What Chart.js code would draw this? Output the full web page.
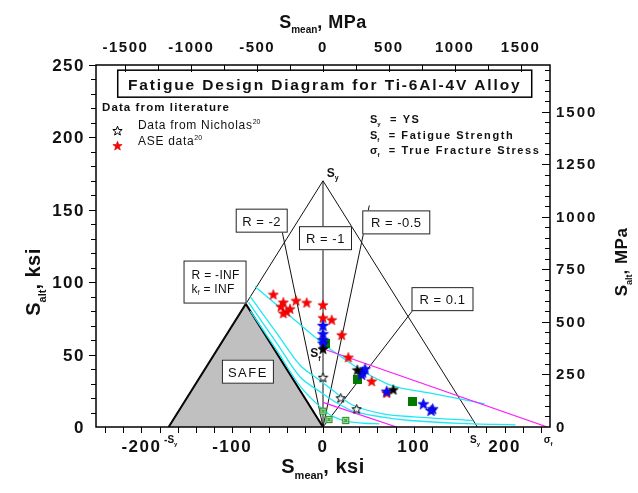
<!DOCTYPE html>
<html><head><meta charset="utf-8">
<script src="https://cdn.jsdelivr.net/npm/chart.js@4/dist/chart.umd.min.js"></script>
<style>html,body{margin:0;padding:0;background:#fff}</style>
</head><body>
<canvas id="c" width="638" height="493" style="display:block"></canvas>
<script>
// ---------- data (ksi) ----------
const KSI_TO_MPA = 6.894757;
const xTicksKsi = [-200, -100, 0, 100, 200];
const yTicksKsi = [0, 50, 100, 150, 200, 250];
const xTicksMPa = [-1500, -1000, -500, 0, 500, 1000, 1500];
const yTicksMPa = [0, 250, 500, 750, 1000, 1250, 1500];

const safeRegion = [[-170, 0], [-85, 85], [0, 0]];
const yieldLine = [[-170, 0], [0, 170], [170, 0]];
const rLineMinus2 = [[0, 0], [-50, 150]];
const rLineMinus1 = [[0, 0], [0, 170]];
const rLineMinus05 = [[0, 0], [51, 153]];
const rLine01 = [[0, 0], [108, 88]];

const goodmanSmooth = [[0, 54], [247, 0]];
const goodmanNotched = [[0, 17], [81, 0]];

const cyan1 = [[-75, 97], [-37, 77], [0, 57.5], [20, 48.5], [44, 38.5], [70, 30], [85, 27], [121, 23], [178, 16]];
const cyan2 = [[-80, 90], [-50, 64], [-25, 42.5], [-3, 32], [11, 25.2], [33, 15], [66, 9.1], [100, 7], [165, 4.5]];
const cyan3 = [[-82, 86], [-50, 57], [-25, 34.4], [0, 23], [11, 18.3], [33, 11], [66, 6.8], [96, 4.5], [150, 2.5], [212, 1.5]];
const cyan4 = [[-80, 80], [-50, 52], [-25, 28], [0, 12], [12, 7], [25, 4], [45, 2.6], [62, 2.2]];

const nicholasOpen = [[0, 34.4], [19.5, 20.2], [37.1, 12.6]];
const nicholasFilled = [[0, 54], [37.8, 39.5], [77.4, 25.9]];
const aseRed = [[-54.7, 91.6], [-43.7, 86.2], [-46.3, 83.3], [-29.7, 87.4], [-18, 86], [-36.3, 81.7], [-40, 79.8], [-43.7, 78.6],
  [0, 84.4], [0, 75.5], [9.6, 74.1], [20.6, 63.7], [27.9, 48.2], [53.6, 31.7], [70.2, 23.6]];
const blueStars = [[0, 70.1], [0, 64.4], [0, 60.3], [0, 57.9], [43.7, 37.9], [46.3, 40.2], [42.6, 36.3], [70.2, 24.7],
  [110.5, 16], [120.8, 12.6], [119, 11.4]];
const greenSquares = [[3.3, 57.5], [38.2, 32.6], [98.8, 17.6]];
const greenCrossed = [[0, 10.9], [6.6, 5.2], [25, 4.5]];

// label boxes in data coordinates (centre)
const boxLabels = [
  {x: -67.5, y: 142.5, w: 52, h: 24, lines: ['R = -2']},
  {x: 2.75, y: 130.4, w: 53, h: 24, lines: ['R = -1']},
  {x: 80.7, y: 141.3, w: 68, h: 24, lines: ['R = -0.5']},
  {x: 131.6, y: 88.3, w: 62, h: 24, lines: ['R = 0.1']},
  {x: -82.7, y: 38.2, w: 52, h: 24, lines: ['SAFE'], ls: 1.5}
];

// ---------- helpers ----------
const P = a => a.map(p => ({x: p[0], y: p[1]}));
function starCanvas(size, fill, stroke, lw) {
  const c = document.createElement('canvas'); c.width = c.height = size;
  const g = c.getContext('2d'); const cx = size / 2, cy = size / 2 + 0.6;
  const R = size / 2 - 0.6, r = R * 0.42;
  g.beginPath();
  for (let i = 0; i < 10; i++) {
    const ang = -Math.PI / 2 + i * Math.PI / 5, rad = i % 2 ? r : R;
    g.lineTo(cx + rad * Math.cos(ang), cy + rad * Math.sin(ang));
  }
  g.closePath();
  if (fill) { g.fillStyle = fill; g.fill(); }
  if (stroke) { g.strokeStyle = stroke; g.lineWidth = lw; g.stroke(); }
  return c;
}
function crossBox(size) {
  const c = document.createElement('canvas'); c.width = c.height = size;
  const g = c.getContext('2d');
  g.fillStyle = '#d8ecd8'; g.fillRect(1, 1, size - 2, size - 2);
  g.strokeStyle = '#2e9a2e'; g.lineWidth = 1.3; g.strokeRect(1.5, 1.5, size - 3, size - 3);
  g.beginPath(); g.moveTo(3, 3); g.lineTo(size - 3, size - 3); g.moveTo(size - 3, 3); g.lineTo(3, size - 3); g.stroke();
  return c;
}
function sqBox(size) {
  const c = document.createElement('canvas'); c.width = c.height = size;
  const g = c.getContext('2d'); g.fillStyle = '#007a00'; g.fillRect(0, 0, size, size);
  return c;
}
const redStar = starCanvas(12, '#ff0000', '#d00000', 0.6);
const blueStar = starCanvas(13, '#0a0aff', '#0000c0', 0.6);
const blackStar = starCanvas(12, '#000', '#000', 0.6);
const openStar = starCanvas(11, '#fff', '#000', 1);
const redStarLeg = starCanvas(11, '#ff0000', '#d00000', 0.6);

const FONT = '"Liberation Sans", Arial, Helvetica, sans-serif';
function setFont(ctx, size, bold, ls) {
  ctx.font = (bold ? 'bold ' : '') + size + 'px ' + FONT;
  ctx.letterSpacing = (ls || 0) + 'px';
}
// segs: [{t, s, b, dy, ls}]
function rich(ctx, segs, x, y, align) {
  let w = 0;
  segs.forEach(s => { setFont(ctx, s.s, s.b, s.ls); s._w = ctx.measureText(s.t).width; w += s._w; });
  let cx = align === 'center' ? x - w / 2 : align === 'right' ? x - w : x;
  ctx.textAlign = 'left'; ctx.textBaseline = 'alphabetic';
  segs.forEach(s => { setFont(ctx, s.s, s.b, s.ls); ctx.fillText(s.t, cx, y + (s.dy || 0)); cx += s._w; });
  ctx.letterSpacing = '0px';
}
function line(ctx, x1, y1, x2, y2) { ctx.beginPath(); ctx.moveTo(x1, y1); ctx.lineTo(x2, y2); ctx.stroke(); }

const decorPlugin = {
  id: 'decor',
  afterDatasetsDraw(chart) {
    const ctx = chart.ctx, a = chart.chartArea;
    const sx = chart.scales.x, sy = chart.scales.y, sx2 = chart.scales.x2, sy2 = chart.scales.y2;
    ctx.save();
    // boxes
    boxLabels.forEach(b => {
      const cx = sx.getPixelForValue(b.x), cy = sy.getPixelForValue(b.y);
      ctx.fillStyle = '#fff'; ctx.fillRect(cx - b.w / 2, cy - b.h / 2, b.w, b.h);
      ctx.strokeStyle = '#222'; ctx.lineWidth = 1; ctx.strokeRect(cx - b.w / 2 + 0.5, cy - b.h / 2 + 0.5, b.w - 1, b.h - 1);
      ctx.fillStyle = '#111';
      rich(ctx, [{t: b.lines[0], s: 13, b: false, ls: b.ls || 0.5}], cx, cy + 5, 'center');
    });
    // R = -INF box
    {
      const cx = sx.getPixelForValue(-118.9), cy = sy.getPixelForValue(100.1), w = 63, h = 43;
      ctx.fillStyle = '#fff'; ctx.fillRect(cx - w / 2, cy - h / 2, w, h);
      ctx.strokeStyle = '#222'; ctx.lineWidth = 1; ctx.strokeRect(cx - w / 2 + 0.5, cy - h / 2 + 0.5, w - 1, h - 1);
      ctx.fillStyle = '#111';
      rich(ctx, [{t: 'R = -INF', s: 12, ls: 0.3}], cx - w / 2 + 8, cy - 3, 'left');
      rich(ctx, [{t: 'k', s: 12, ls: 0.3}, {t: 'f', s: 7, dy: 2}, {t: ' = INF', s: 12, ls: 0.3}], cx - w / 2 + 8, cy + 11, 'left');
    }
    // title box
    {
      const cx = sx.getPixelForValue(1.9), cy = sy.getPixelForValue(237.1), w = 414, h = 27;
      ctx.fillStyle = '#fff'; ctx.fillRect(cx - w / 2, cy - h / 2, w, h);
      ctx.strokeStyle = '#000'; ctx.lineWidth = 1.5; ctx.strokeRect(cx - w / 2, cy - h / 2, w, h);
      ctx.fillStyle = '#111';
      rich(ctx, [{t: 'Fatigue Design Diagram for Ti-6Al-4V Alloy', s: 15.5, b: true, ls: 1.85}], cx, cy + 6, 'center');
    }
    // legend
    ctx.fillStyle = '#111';
    rich(ctx, [{t: 'Data from literature', s: 11.5, b: true, ls: 1.1}], a.left + 6, a.top + 46, 'left');
    ctx.drawImage(openStar, a.left + 16, a.top + 60);
    rich(ctx, [{t: 'Data from Nicholas', s: 12, ls: 0.7}, {t: '20', s: 7, dy: -5}], a.left + 42, a.top + 64, 'left');
    ctx.drawImage(redStarLeg, a.left + 16, a.top + 75);
    rich(ctx, [{t: 'ASE data', s: 12, ls: 0.7}, {t: '20', s: 7, dy: -5}], a.left + 42, a.top + 80, 'left');
    const lx = a.left + 274;
    rich(ctx, [{t: 'S', s: 11, b: true}, {t: 'y', s: 6, b: true, dy: 3}, {t: '  = YS', s: 11, b: true, ls: 1.6}], lx, a.top + 58, 'left');
    rich(ctx, [{t: 'S', s: 11, b: true}, {t: 'f', s: 6, b: true, dy: 3}, {t: '  = Fatigue Strength', s: 11, b: true, ls: 1.6}], lx, a.top + 74, 'left');
    rich(ctx, [{t: 'σ', s: 11, b: true}, {t: 'f', s: 6, b: true, dy: 3}, {t: '  = True Fracture Stress', s: 11, b: true, ls: 1.6}], lx, a.top + 89, 'left');
    // in-plot labels
    rich(ctx, [{t: 'S', s: 12, b: true}, {t: 'y', s: 7, b: true, dy: 3}], sx.getPixelForValue(4), sy.getPixelForValue(172.5), 'left');
    rich(ctx, [{t: 'S', s: 12, b: true}, {t: 'f', s: 7, b: true, dy: 4}], sx.getPixelForValue(-14), sy.getPixelForValue(48), 'left');

    // frame
    ctx.strokeStyle = '#000'; ctx.lineWidth = 1.5;
    ctx.strokeRect(a.left, a.top, a.right - a.left, a.bottom - a.top);
    ctx.lineWidth = 1;
    // bottom ticks (outside)
    for (let v = -240; v <= 240; v += 20) { const p = Math.round(sx.getPixelForValue(v)) + 0.5; line(ctx, p, a.bottom, p, a.bottom + 6); }
    // left ticks (outside)
    for (let v = 10; v <= 250; v += 10) { const p = Math.round(sy.getPixelForValue(v)) + 0.5; line(ctx, a.left - (v % 50 ? 5 : 7), p, a.left, p); }
    // top ticks (inside)
    for (let v = -1500; v <= 1500; v += 250) { const p = Math.round(sx2.getPixelForValue(v)) + 0.5; line(ctx, p, a.top, p, a.top + (v % 500 ? 5 : 7)); }
    // right ticks (inside)
    for (let v = 50; v <= 1700; v += 50) { const p = Math.round(sy2.getPixelForValue(v)) + 0.5; line(ctx, a.right - (v % 250 ? 5 : 8), p, a.right, p); }

    // tick labels
    ctx.fillStyle = '#111';
    xTicksKsi.forEach(v => rich(ctx, [{t: String(v), s: 17, b: true, ls: 1.5}], sx.getPixelForValue(v), a.bottom + 25, 'center'));
    yTicksKsi.forEach(v => rich(ctx, [{t: String(v), s: 17, b: true, ls: 1.5}], a.left - 11, sy.getPixelForValue(v) + 6, 'right'));
    xTicksMPa.forEach(v => rich(ctx, [{t: String(v), s: 15, b: true, ls: 1.5}], sx2.getPixelForValue(v), a.top - 13, 'center'));
    yTicksMPa.forEach(v => rich(ctx, [{t: String(v), s: 15, b: true, ls: 2}], a.right + 6, sy2.getPixelForValue(v) + 5, 'left'));
    // axis markers below
    rich(ctx, [{t: '-S', s: 10, b: true}, {t: 'y', s: 6, b: true, dy: 3}], sx.getPixelForValue(-175), a.bottom + 16, 'left');
    rich(ctx, [{t: 'S', s: 10, b: true}, {t: 'y', s: 6, b: true, dy: 3}], sx.getPixelForValue(162), a.bottom + 16, 'left');
    rich(ctx, [{t: 'σ', s: 10, b: true}, {t: 'f', s: 6, b: true, dy: 3}], sx.getPixelForValue(243), a.bottom + 16, 'left');

    // axis titles
    rich(ctx, [{t: 'S', s: 18, b: true}, {t: 'mean', s: 10, b: true, dy: 5}, {t: ', MPa', s: 18, b: true, ls: 0.5}], (a.left + a.right) / 2, 28, 'center');
    rich(ctx, [{t: 'S', s: 20, b: true}, {t: 'mean', s: 11, b: true, dy: 6}, {t: ', ksi', s: 20, b: true, ls: 0.5}], (a.left + a.right) / 2, a.bottom + 46, 'center');
    ctx.save(); ctx.translate(40, (a.top + a.bottom) / 2 + 36); ctx.rotate(-Math.PI / 2);
    rich(ctx, [{t: 'S', s: 20, b: true}, {t: 'alt', s: 11, b: true, dy: 6}, {t: ', ksi', s: 20, b: true, ls: 0.5}], 0, 0, 'center');
    ctx.restore();
    ctx.save(); ctx.translate(627, 262); ctx.rotate(-Math.PI / 2);
    rich(ctx, [{t: 'S', s: 17, b: true}, {t: 'alt', s: 9, b: true, dy: 5}, {t: ', MPa', s: 17, b: true, ls: 0.5}], 0, 0, 'center');
    ctx.restore();
    ctx.restore();
  }
};

const lineDs = (arr, color, width, order, extra) => Object.assign({
  type: 'scatter', data: P(arr), showLine: true, pointRadius: 0, borderColor: color, borderWidth: width,
  fill: false, tension: 0, order: order
}, extra || {});
const ptDs = (arr, style, order) => ({type: 'scatter', data: P(arr), showLine: false, pointStyle: style, pointRadius: 6, order: order});

new Chart(document.getElementById('c'), {
  type: 'scatter',
  data: {datasets: [
    lineDs(safeRegion, '#000', 2, 30, {fill: 'origin', backgroundColor: '#c0c0c0'}),
    lineDs(yieldLine, '#111', 1, 20),
    lineDs(rLineMinus2, '#111', 1, 20),
    lineDs(rLineMinus1, '#111', 1, 20),
    lineDs(rLineMinus05, '#111', 1, 20),
    lineDs(rLine01, '#111', 1, 20),
    lineDs(cyan1, '#1ee8f4', 1.3, 15, {tension: 0.3}),
    lineDs(cyan2, '#1ee8f4', 1.3, 15, {tension: 0.3}),
    lineDs(cyan3, '#1ee8f4', 1.3, 15, {tension: 0.3}),
    lineDs(cyan4, '#1ee8f4', 1.3, 15, {tension: 0.3}),
    lineDs(goodmanSmooth, '#ff1aff', 1.2, 14),
    lineDs(goodmanNotched, '#ff1aff', 1.2, 14),
    ptDs(greenCrossed, crossBox(9), 5),
    ptDs(greenSquares, sqBox(9), 5),
    ptDs(aseRed, redStar, 4),
    ptDs(blueStars, blueStar, 3),
    ptDs(nicholasOpen, openStar, 2),
    ptDs(nicholasFilled, blackStar, 2)
  ]},
  options: {
    responsive: false, animation: false, events: [],
    layout: {padding: {left: 96, right: 88, top: 65, bottom: 66}},
    plugins: {legend: {display: false}, tooltip: {enabled: false}},
    scales: {
      x: {type: 'linear', min: -250, max: 250, display: false},
      y: {type: 'linear', min: 0, max: 250, display: false},
      x2: {type: 'linear', position: 'top', min: -250 * KSI_TO_MPA, max: 250 * KSI_TO_MPA, display: false},
      y2: {type: 'linear', position: 'right', min: 0, max: 250 * KSI_TO_MPA, display: false}
    }
  },
  plugins: [decorPlugin]
});
</script>
</body></html>
